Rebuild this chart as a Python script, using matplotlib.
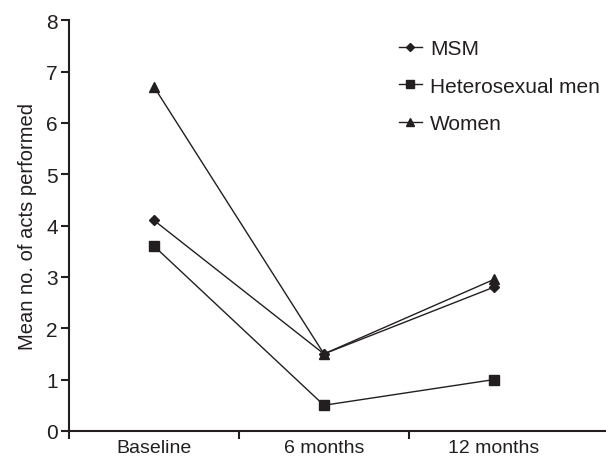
import matplotlib.pyplot as plt
import numpy as np

plt.rcParams['font.family'] = ['Liberation Sans', 'DejaVu Sans']

timepoints = ["Baseline", "6 months", "12 months"]
msm = [4.1, 1.5, 2.8]
hetero_men = [3.6, 0.5, 1.0]
women = [6.7, 1.5, 2.95]

ink = "#231f20"
x = np.arange(len(timepoints)) + 0.5

fig = plt.figure(figsize=(6.06, 4.6), dpi=100)
ax = fig.add_axes([0.114, 0.061, 0.886, 0.893])

ax.plot(x, msm, color=ink, lw=1, marker="D", ms=5, label="MSM")
ax.plot(x, hetero_men, color=ink, lw=1, marker="s", ms=6.5, label="Heterosexual men")
ax.plot(x, women, color=ink, lw=1, marker="^", ms=6.5, label="Women")

ax.set_xlim(0, 3.16)
ax.set_ylim(0, 8)
ax.set_xticks([0, 1, 2])
ax.set_xticklabels([])
ax.set_xticks(x, minor=True)
ax.set_xticklabels(timepoints, minor=True, fontsize=14, color=ink)
ax.tick_params(axis="x", which="minor", length=0, pad=6)
ax.tick_params(axis="x", which="major", length=6, width=1.5, color=ink)
ax.set_yticks(range(0, 9))
ax.tick_params(axis="y", length=6, width=1.5, color=ink, labelsize=15, labelcolor=ink, pad=2)

ax.spines["top"].set_visible(False)
ax.spines["right"].set_visible(False)
for s in ("left", "bottom"):
    ax.spines[s].set_linewidth(1.5)
    ax.spines[s].set_color(ink)

ax.set_ylabel("Mean no. of acts performed", fontsize=14.5, color=ink, labelpad=7)

leg = ax.legend(loc="upper right", bbox_to_anchor=(1.024, 1.0), frameon=False,
                fontsize=15, handlelength=1.1, handletextpad=0.4, labelspacing=0.9,
                labelcolor=ink, markerscale=0.9)

plt.savefig("out.png", dpi=100)
